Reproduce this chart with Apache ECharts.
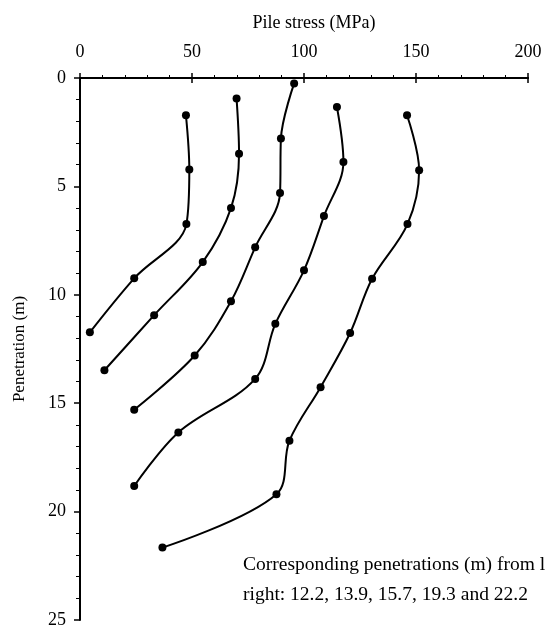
<!DOCTYPE html>
<html>
<head>
<meta charset="utf-8">
<script src="https://cdn.jsdelivr.net/npm/echarts@6/dist/echarts.min.js"></script>
<style>
  html, body { margin: 0; padding: 0; background: #fff; }
  #chart { width: 545px; height: 629px; }
</style>
</head>
<body>
<div id="chart"></div>
<script>
// Pile stress (MPa) against penetration depth (m), one profile per driving stage
const stressTicks = [0, 50, 100, 150, 200];
const depthTicks = [0, 5, 10, 15, 20, 25];

const stage1Stress = [47.3, 48.8, 47.5, 24.2, 4.4];
const stage1Depth  = [1.72, 4.22, 6.74, 9.24, 11.73];

const stage2Stress = [69.9, 71.0, 67.4, 54.8, 33.1, 10.9];
const stage2Depth  = [0.95, 3.49, 6.0, 8.49, 10.94, 13.48];

const stage3Stress = [95.6, 89.7, 89.3, 78.2, 67.4, 51.2, 24.2];
const stage3Depth  = [0.25, 2.79, 5.31, 7.81, 10.3, 12.8, 15.3];

const stage4Stress = [114.7, 117.6, 108.9, 100.0, 87.2, 78.2, 43.9, 24.2];
const stage4Depth  = [1.34, 3.87, 6.37, 8.87, 11.34, 13.88, 16.35, 18.82];

const stage5Stress = [146.0, 151.4, 146.2, 130.4, 120.6, 107.4, 93.5, 87.7, 36.8];
const stage5Depth  = [1.72, 4.25, 6.74, 9.26, 11.76, 14.26, 16.73, 19.2, 21.66];

const noteLines = [
  'Corresponding penetrations (m) from left to',
  'right: 12.2, 13.9, 15.7, 19.3 and 22.2'
];

const stages = [
  [stage1Stress, stage1Depth],
  [stage2Stress, stage2Depth],
  [stage3Stress, stage3Depth],
  [stage4Stress, stage4Depth],
  [stage5Stress, stage5Depth]
];

const FONT = 'Liberation Serif';
const INK = '#000';

const chart = echarts.init(document.getElementById('chart'), null, { renderer: 'canvas' });

const baseX = {
  type: 'value',
  position: 'top',
  min: stressTicks[0],
  max: stressTicks[stressTicks.length - 1],
  interval: 50,
  splitLine: { show: false },
  axisLine: { show: true, lineStyle: { color: INK, width: 2 } }
};

chart.setOption({
  animation: false,
  backgroundColor: '#fff',
  grid: { left: 80, right: 17, top: 78, bottom: 8, containLabel: false },
  xAxis: [
    Object.assign({}, baseX, {
      name: 'Pile stress (MPa)',
      nameLocation: 'middle',
      nameGap: 46,
      nameTextStyle: { fontFamily: FONT, fontSize: 18, color: INK, padding: [0, 0, 0, 20] },
      axisTick: { show: true, inside: false, length: 5, lineStyle: { color: INK, width: 1.5 } },
      minorTick: { show: true, splitNumber: 5, length: 3, lineStyle: { color: INK, width: 1 } },
      axisLabel: { show: true, margin: 17, fontFamily: FONT, fontSize: 18, color: INK,
        formatter: v => String(v) }
    }),
    Object.assign({}, baseX, {
      axisTick: { show: true, inside: true, length: 5, lineStyle: { color: INK, width: 1.5 } },
      axisLabel: { show: false }
    })
  ],
  yAxis: {
    type: 'value',
    inverse: true,
    min: depthTicks[0],
    max: depthTicks[depthTicks.length - 1],
    interval: 5,
    name: 'Penetration (m)',
    nameLocation: 'middle',
    nameGap: 52,
    nameTextStyle: { fontFamily: FONT, fontSize: 17, color: INK },
    splitLine: { show: false },
    axisLine: { show: true, lineStyle: { color: INK, width: 2 } },
    axisTick: { show: true, inside: false, length: 6, lineStyle: { color: INK, width: 1.5 } },
    minorTick: { show: true, splitNumber: 5, length: 4, lineStyle: { color: INK, width: 1 } },
    axisLabel: { margin: 14, fontFamily: FONT, fontSize: 18, color: INK }
  },
  series: stages.map(([xs, ys]) => ({
    type: 'line',
    xAxisIndex: 0,
    smooth: 0.35,
    symbol: 'circle',
    symbolSize: 8,
    itemStyle: { color: INK },
    lineStyle: { color: INK, width: 2 },
    data: xs.map((x, i) => [x, ys[i]])
  })),
  graphic: noteLines.map((t, i) => ({
    type: 'text',
    left: 243,
    top: 555 + i * 30,
    style: { text: t, fontFamily: FONT, fontSize: 19.5, fill: INK }
  }))
});
</script>
</body>
</html>
